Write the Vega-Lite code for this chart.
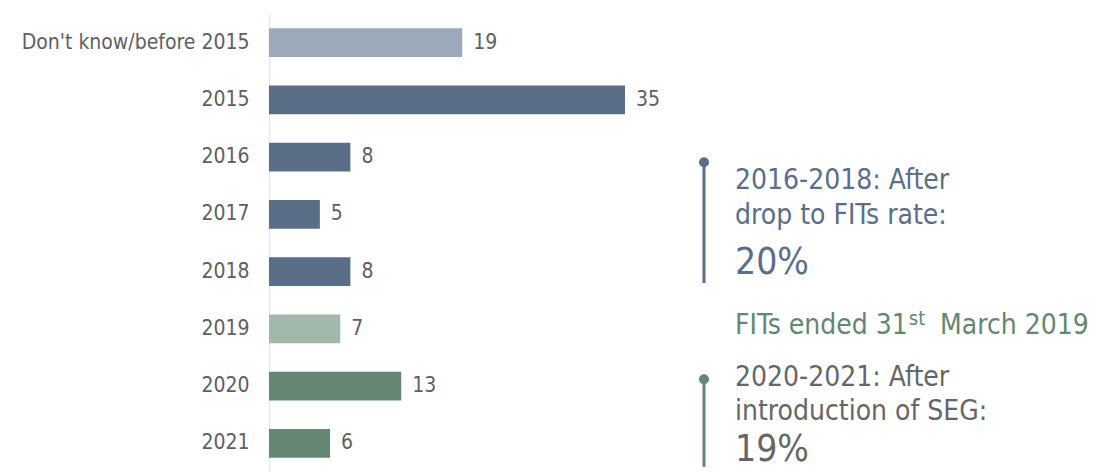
{
  "$schema": "https://vega.github.io/schema/vega-lite/v6.json",
  "autosize": {"type": "none"},
  "padding": {"left": 269, "top": 14, "right": 0, "bottom": 0},
  "width": 824,
  "height": 458,
  "config": {
    "view": {"stroke": null},
    "font": "DejaVu Sans Condensed, DejaVu Sans",
    "text": {"font": "DejaVu Sans Condensed, DejaVu Sans"}
  },
  "datasets": {
    "bars": [
      {"year": "Don't know/before 2015", "count": 19, "group": "unknown"},
      {"year": "2015", "count": 35, "group": "fit"},
      {"year": "2016", "count": 8, "group": "fit"},
      {"year": "2017", "count": 5, "group": "fit"},
      {"year": "2018", "count": 8, "group": "fit"},
      {"year": "2019", "count": 7, "group": "end"},
      {"year": "2020", "count": 13, "group": "seg"},
      {"year": "2021", "count": 6, "group": "seg"}
    ],
    "markers": [
      {"x": 42.76, "y": 2.09, "y2": 4.2, "group": "fit"},
      {"x": 42.76, "y": 5.88, "y2": 7.41, "group": "seg"}
    ],
    "notes": [
      {"x": 45.81, "y": 2.56, "text": "2016-2018: After", "kind": "line", "group": "fit"},
      {"x": 45.81, "y": 3.16, "text": "drop to FITs rate:", "kind": "line", "group": "fit"},
      {"x": 45.81, "y": 4.041, "text": "20%", "kind": "big", "group": "fit"},
      {"x": 45.81, "y": 5.09, "text": "FITs ended 31", "kind": "line", "group": "seg"},
      {"x": 62.9, "y": 4.935, "text": "st", "kind": "sup", "group": "seg"},
      {"x": 65.96, "y": 5.09, "text": "March 2019", "kind": "line", "group": "seg"},
      {"x": 45.81, "y": 6.0, "text": "2020-2021: After", "kind": "line", "group": "gray"},
      {"x": 45.81, "y": 6.6, "text": "introduction of SEG:", "kind": "line", "group": "gray"},
      {"x": 45.81, "y": 7.31, "text": "19%", "kind": "big", "group": "gray"}
    ]
  },
  "resolve": {"scale": {"y": "independent"}},
  "layer": [
    {
      "data": {"name": "bars"},
      "layer": [
        {
          "mark": {"type": "bar"},
          "encoding": {
            "y": {
              "field": "year", "type": "nominal", "sort": null,
              "scale": {"paddingInner": 0.5, "paddingOuter": 0.25},
              "axis": {
                "title": null, "ticks": false, "labelPadding": 20,
                "labelFontSize": 21, "labelColor": "#606060", "labelLimit": 400,
                "labelFont": "DejaVu Sans Condensed, DejaVu Sans",
                "domainColor": "#e8e8e8", "domainWidth": 1.5, "grid": false
              }
            },
            "x": {"field": "count", "type": "quantitative", "scale": {"domain": [0, 81], "nice": false}, "axis": null},
            "color": {
              "field": "group", "type": "nominal", "legend": null,
              "scale": {"domain": ["unknown", "fit", "end", "seg", "gray"], "range": ["#9ba9bb", "#5b6e88", "#a2b8aa", "#648672", "#666666"]}
            }
          }
        },
        {
          "mark": {"type": "text", "align": "left", "baseline": "middle", "dx": 11, "fontSize": 21, "color": "#606060"},
          "encoding": {
            "y": {"field": "year", "type": "nominal", "sort": null},
            "x": {"field": "count", "type": "quantitative", "scale": {"domain": [0, 81], "nice": false}},
            "text": {"field": "count", "type": "quantitative"}
          }
        }
      ]
    },
    {
      "layer": [
        {
          "data": {"name": "markers"},
          "mark": {"type": "rule", "strokeWidth": 3},
          "encoding": {
            "x": {"field": "x", "type": "quantitative", "scale": {"domain": [0, 81], "nice": false}},
            "y": {"field": "y", "type": "quantitative", "scale": {"domain": [-0.5, 7.5], "reverse": true, "nice": false, "zero": false}, "axis": null},
            "y2": {"field": "y2"},
            "color": {"field": "group", "type": "nominal", "legend": null,
              "scale": {"domain": ["unknown", "fit", "end", "seg", "gray"], "range": ["#9ba9bb", "#5b6e88", "#a2b8aa", "#648672", "#666666"]}}
          }
        },
        {
          "data": {"name": "markers"},
          "mark": {"type": "point", "filled": true, "shape": "circle", "size": 100, "opacity": 1},
          "encoding": {
            "x": {"field": "x", "type": "quantitative", "scale": {"domain": [0, 81], "nice": false}},
            "y": {"field": "y", "type": "quantitative", "scale": {"domain": [-0.5, 7.5], "reverse": true, "nice": false, "zero": false}, "axis": null},
            "color": {"field": "group", "type": "nominal", "legend": null,
              "scale": {"domain": ["unknown", "fit", "end", "seg", "gray"], "range": ["#9ba9bb", "#5b6e88", "#a2b8aa", "#648672", "#666666"]}}
          }
        },
        {
          "data": {"name": "notes"},
          "transform": [{"filter": "datum.kind === 'line'"}],
          "mark": {"type": "text", "align": "left", "baseline": "alphabetic", "fontSize": 28},
          "encoding": {
            "x": {"field": "x", "type": "quantitative", "scale": {"domain": [0, 81], "nice": false}},
            "y": {"field": "y", "type": "quantitative", "scale": {"domain": [-0.5, 7.5], "reverse": true, "nice": false, "zero": false}, "axis": null},
            "text": {"field": "text"},
            "color": {"field": "group", "type": "nominal", "legend": null,
              "scale": {"domain": ["unknown", "fit", "end", "seg", "gray"], "range": ["#9ba9bb", "#5b6e88", "#a2b8aa", "#648672", "#666666"]}}
          }
        },
        {
          "data": {"name": "notes"},
          "transform": [{"filter": "datum.kind === 'big'"}],
          "mark": {"type": "text", "align": "left", "baseline": "alphabetic", "fontSize": 37},
          "encoding": {
            "x": {"field": "x", "type": "quantitative", "scale": {"domain": [0, 81], "nice": false}},
            "y": {"field": "y", "type": "quantitative", "scale": {"domain": [-0.5, 7.5], "reverse": true, "nice": false, "zero": false}, "axis": null},
            "text": {"field": "text"},
            "color": {"field": "group", "type": "nominal", "legend": null,
              "scale": {"domain": ["unknown", "fit", "end", "seg", "gray"], "range": ["#9ba9bb", "#5b6e88", "#a2b8aa", "#648672", "#666666"]}}
          }
        },
        {
          "data": {"name": "notes"},
          "transform": [{"filter": "datum.kind === 'sup'"}],
          "mark": {"type": "text", "align": "left", "baseline": "alphabetic", "fontSize": 20},
          "encoding": {
            "x": {"field": "x", "type": "quantitative", "scale": {"domain": [0, 81], "nice": false}},
            "y": {"field": "y", "type": "quantitative", "scale": {"domain": [-0.5, 7.5], "reverse": true, "nice": false, "zero": false}, "axis": null},
            "text": {"field": "text"},
            "color": {"field": "group", "type": "nominal", "legend": null,
              "scale": {"domain": ["unknown", "fit", "end", "seg", "gray"], "range": ["#9ba9bb", "#5b6e88", "#a2b8aa", "#648672", "#666666"]}}
          }
        }
      ]
    }
  ]
}
